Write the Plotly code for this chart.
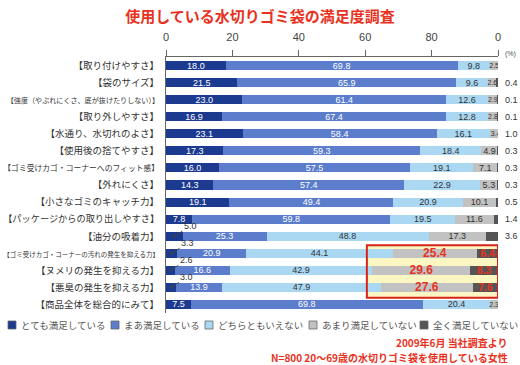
import plotly.graph_objects as go

# ---------------- data ----------------
categories = [
    "【取り付けやすさ】",
    "【袋のサイズ】",
    "【強度（やぶれにくさ、底が抜けたりしない）】",
    "【取り外しやすさ】",
    "【水通り、水切れのよさ】",
    "【使用後の捨てやすさ】",
    "【ゴミ受けカゴ・コーナーへのフィット感】",
    "【外れにくさ】",
    "【小さなゴミのキャッチ力】",
    "【パッケージからの取り出しやすさ】",
    "【油分の吸着力】",
    "【ゴミ受けカゴ・コーナーの汚れの発生を抑える力】",
    "【ヌメリの発生を抑える力】",
    "【悪臭の発生を抑える力】",
    "【商品全体を総合的にみて】",
]
very_satisfied = [18.0, 21.5, 23.0, 16.9, 23.1, 17.3, 16.0, 14.3, 19.1, 7.8, 5.0, 3.3, 2.6, 3.0, 7.5]
somewhat_satisfied = [69.8, 65.9, 61.4, 67.4, 58.4, 59.3, 57.5, 57.4, 49.4, 59.8, 25.3, 20.9, 16.6, 13.9, 69.8]
neutral = [9.8, 9.6, 12.6, 12.8, 16.1, 18.4, 19.1, 22.9, 20.9, 19.5, 48.8, 44.1, 42.9, 47.9, 20.4]
not_very_satisfied = [2.5, 2.6, 2.9, 2.8, 3.4, 4.9, 7.1, 5.3, 10.1, 11.6, 17.3, 25.4, 29.6, 27.6, 2.3]
not_at_all_satisfied = [0.0, 0.4, 0.1, 0.1, 1.0, 0.3, 0.3, 0.3, 0.5, 1.4, 3.6, 6.4, 8.3, 7.6, 0.0]
series_names = ["とても満足している", "まあ満足している", "どちらともいえない",
                "あまり満足していない", "全く満足していない"]
tick_values = [0, 20, 40, 60, 80, 100]
tick_labels = ["0", "20", "40", "60", "80", "0"]
highlight_rows = [11, 12, 13]
title_text = "使用している水切りゴミ袋の満足度調査"
note_lines = ["2009年6月 当社調査より", "N=800 20～69歳の水切りゴミ袋を使用している女性"]

# ---------------- styling ----------------
W, H = 520, 365
ML, MR, MT, MB = 166, 22, 57, 52
PW, PH = W - ML - MR, H - MT - MB
colors = ["#1c3b90", "#5b7dcc", "#aad8f3", "#c2c2c2", "#555555"]
RED = "#e8321e"
JP = "Noto Sans CJK JP, Noto Sans, sans-serif"
NUM = "Liberation Sans Narrow, Liberation Sans, Arial, sans-serif"

def px_x(px):
    return (px - ML) / PW

def px_y(py):
    return (H - MB - py) / PH

series = [very_satisfied, somewhat_satisfied, neutral, not_very_satisfied, not_at_all_satisfied]
fig = go.Figure()
annotations = []

for si, vals in enumerate(series):
    texts, tcolors, tsizes = [], [], []
    for ri, v in enumerate(vals):
        t, c, s = "", "#333333", 9
        if si == 0:
            if v >= 6:
                t, c = f"{v:.1f}", "white"
        elif si == 1:
            t, c = f"{v:.1f}", "white"
        elif si == 2:
            t = f"{v:.1f}"
        elif si == 3:
            if ri in highlight_rows:
                t, c, s = f"<b>{v:.1f}</b>", RED, 12
            else:
                t = f"{v:.1f}"
                s = 7 if v < 4 else 9
        else:
            if ri in highlight_rows:
                t, c, s = f"<b>{v:.1f}</b>", RED, 10.5
        texts.append(t)
        tcolors.append(c)
        tsizes.append(s)
    fig.add_trace(go.Bar(
        x=vals, y=categories, orientation="h", name=series_names[si],
        marker=dict(color=colors[si], line=dict(width=0)),
        text=texts, textposition="inside", insidetextanchor="middle",
        textangle=0, constraintext="none",
        textfont=dict(color=tcolors, size=tsizes, family=NUM),
        hoverinfo="skip", showlegend=False,
    ))

# small "very satisfied" values with leader lines
for ri, v in enumerate(very_satisfied):
    if v < 6:
        annotations.append(dict(
            x=v / 2, y=categories[ri], xref="x", yref="y",
            text=f"{v:.1f}", showarrow=True, arrowhead=6, arrowsize=0.6,
            arrowwidth=1, arrowcolor="#444", ax=16, ay=-10, standoff=0,
            font=dict(size=9, color="#333", family=NUM),
        ))

# "not at all" values outside the bars
for ri, v in enumerate(not_at_all_satisfied):
    if v > 0 and ri not in highlight_rows:
        total = sum(s[ri] for s in series)
        annotations.append(dict(
            x=min(total, 100), y=categories[ri], xref="x", yref="y",
            text=f"{v:.1f}", showarrow=False, xanchor="left", xshift=5,
            font=dict(size=9, color="#333", family=NUM),
        ))

# y tick labels, shrinking long ones
ticktext = []
for c in categories:
    size = min(9.5, 156 / len(c))
    ticktext.append(f'<span style="font-size:{size:.1f}px">{c}</span>')

# highlight box
hx0 = 60.5
y_top = min(highlight_rows) - 0.47
y_bot = max(highlight_rows) + 0.6
shapes = [
    dict(type="rect", xref="x", yref="y", x0=hx0, x1=100, y0=y_top, y1=y_bot,
         fillcolor="#fbf6c2", line=dict(width=0), layer="below"),
    dict(type="rect", xref="x", yref="y", x0=hx0, x1=100, y0=y_top, y1=y_bot,
         fillcolor="rgba(0,0,0,0)", line=dict(color="#d8231a", width=2), layer="above"),
]

# manual legend
legend_x = [8, 111, 205, 309, 420]
ly = 325
for i, name in enumerate(series_names):
    x0 = legend_x[i]
    shapes.append(dict(type="rect", xref="paper", yref="paper",
                       x0=px_x(x0), x1=px_x(x0 + 8), y0=px_y(ly + 4), y1=px_y(ly - 4),
                       fillcolor=colors[i], line=dict(color="#666", width=0.8)))
    annotations.append(dict(x=px_x(x0 + 11), y=px_y(ly), xref="paper", yref="paper",
                            text=name, showarrow=False, xanchor="left", yanchor="middle",
                            font=dict(size=9.5, color="#555", family=JP)))

# (%) unit
annotations.append(dict(x=px_x(503), y=px_y(54), xref="paper", yref="paper",
                        text="(%)", showarrow=False, xanchor="left", yanchor="middle",
                        font=dict(size=7, color="#555", family=NUM)))

# notes
for i, ln in enumerate(note_lines):
    annotations.append(dict(x=px_x(509), y=px_y(342 + 15 * i), xref="paper", yref="paper",
                            text=f"<b>{ln}</b>", showarrow=False, xanchor="right",
                            yanchor="middle", borderpad=0,
                            font=dict(size=10, color=RED, family=JP)))

fig.update_layout(
    width=W, height=H,
    margin=dict(l=ML, r=MR, t=MT, b=MB, autoexpand=False),
    paper_bgcolor="white", plot_bgcolor="white",
    barmode="stack", bargap=0.47,
    title=dict(text=f"<b>{title_text}</b>", x=0.5, xref="container", xanchor="center",
               y=1 - 17 / H, yanchor="middle",
               font=dict(size=15, color=RED, family=JP)),
    xaxis=dict(range=[0, 100], side="top", tickvals=tick_values, ticktext=tick_labels,
               showline=True, linecolor="#666", linewidth=1, ticks="outside",
               ticklen=6, tickcolor="#666", showgrid=False, zeroline=False,
               ticklabelstandoff=5, automargin=False,
               tickfont=dict(size=11, color="#444", family="Liberation Sans, Arial, sans-serif")),
    yaxis=dict(categoryorder="array", categoryarray=categories, autorange="reversed",
               tickvals=categories, ticktext=ticktext, automargin=False,
               showline=True, linecolor="#666", linewidth=1, ticks="",
               showgrid=False, zeroline=False, ticklabelstandoff=4,
               tickfont=dict(size=9.5, color="#333", family=JP)),
    shapes=shapes, annotations=annotations,
    showlegend=False,
)

fig.write_html("out.html", config={"displayModeBar": False},
               post_script="document.body.style.margin='0';")
